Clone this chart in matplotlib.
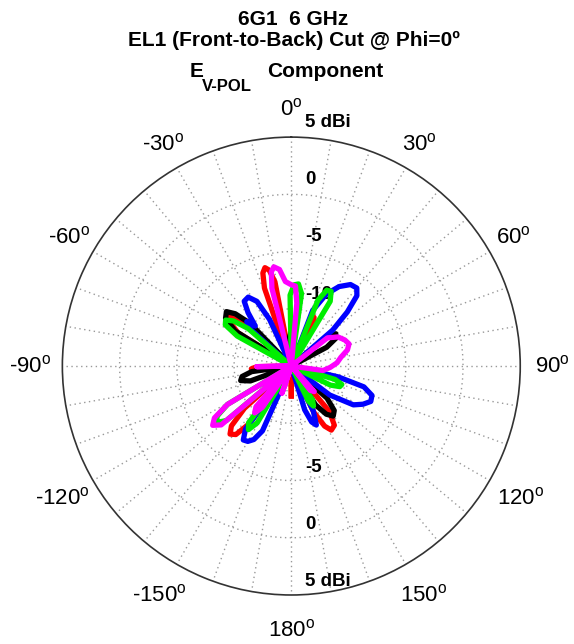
import numpy as np
import matplotlib
matplotlib.use("agg")
import matplotlib.pyplot as plt

plt.rcParams['font.family'] = ['Liberation Sans', 'DejaVu Sans']
plt.rcParams['mathtext.fontset'] = 'custom'
plt.rcParams['mathtext.rm'] = 'Liberation Sans'
plt.rcParams['mathtext.it'] = 'Liberation Sans:italic'
plt.rcParams['mathtext.bf'] = 'Liberation Sans:bold'

# angle in degrees (0 = up, clockwise), gain in dBi
black_ang = [-180, -156, -153, -150, -147, -144,
             -114, -110, -106, -102, -98, -94,
             -62, -58, -54, -50, -47, -44, -41,
             -8, -4, 0, 4, 8,
             47, 50, 54, 58, 62, 65,
             128, 132, 136, 140, 144, 148, 151, 180]
black_db = [-15, -15, -12.3, -11.5, -12.3, -15,
            -15, -11.2, -10.4, -10.6, -11.5, -15,
            -15, -9.2, -7.9, -7.6, -8.3, -9.8, -15,
            -15, -12.5, -12.0, -12.5, -15,
            -15, -11.2, -10.2, -10.4, -11.5, -15,
            -15, -10.8, -9.6, -9.3, -9.8, -11.0, -15, -15]

red_ang = [-180, -176, -147, -144, -141, -138, -135, -132, -129,
           -100, -97, -94, -91, -88,
           -61, -58, -54, -51, -48, -45,
           -21, -19, -17, -15, -13, -11, -9,
           19, 22, 25, 28, 31,
           136, 140, 144, 148, 151, 154, 157, 176, 180]
red_db = [-12.4, -15, -15, -8.8, -7.3, -7.0, -7.6, -9.5, -15,
          -15, -12.0, -11.5, -12.0, -15,
          -15, -9.5, -8.2, -8.0, -8.8, -15,
          -15, -7.8, -6.5, -6.1, -6.4, -7.5, -15,
          -15, -11.0, -10.3, -10.8, -15,
          -15, -9.8, -8.6, -8.4, -9.0, -10.5, -15, -15, -12.4]

blue_ang = [-180, -159, -156, -153, -150, -147, -144, -141,
            -52, -48, -45, -42, -39, -36, -32, -28, -25, -22,
            17, 21, 26, 31, 36, 40, 43, 46, 49, 52,
            99, 103, 106, 110, 114, 118, 122, 127, 132,
            151, 154, 157, 160, 163, 166, 180]
blue_db = [-15, -15, -8.8, -7.8, -7.4, -7.3, -8.2, -15,
           -15, -10.0, -9.5, -10.3, -9.0, -8.0, -7.9, -8.6, -10.5, -15,
           -15, -9.8, -8.0, -6.9, -6.2, -6.1, -6.6, -8.2, -10.2, -15,
           -15, -10.8, -8.4, -7.5, -7.4, -7.9, -8.6, -10.8, -15,
           -15, -10.6, -9.4, -9.8, -11.0, -15, -15]

green_ang = [-180, -151, -149, -146, -143, -140,
             -133, -130, -127, -124, -121, -118,
             -64, -61, -58, -55, -52, -49, -46,
             -4, -1, 2, 5, 8, 11,
             19, 22, 25, 28, 31, 34,
             104, 107, 110, 113, 116, 119,
             145, 148, 151, 154, 157, 180]
green_db = [-15, -15, -9.2, -8.3, -8.8, -15,
            -15, -7.6, -6.8, -7.2, -8.5, -15,
            -15, -9.6, -8.2, -8.0, -8.6, -10.0, -15,
            -15, -8.8, -7.9, -7.8, -8.6, -15,
            -15, -8.8, -7.7, -7.6, -8.4, -15,
            -15, -11.0, -10.3, -10.4, -11.2, -15,
            -15, -11.5, -11.0, -11.6, -15, -15]

magenta_ang = [-180, -165, -161, -157,
               -147, -145, -142, -139, -137,
               -133, -130, -127, -124, -121, -118,
               -96, -91, -86,
               -16, -14, -12, -10, -7, -4, 0, 3, 5, 7,
               47, 52, 58, 64, 69, 74, 80, 86, 92, 98, 106,
               134, 138, 142, 146, 180]
magenta_db = [-15, -15, -12.5, -15,
              -15, -10.6, -9.8, -10.3, -15,
              -15, -7.0, -6.4, -6.9, -8.5, -15,
              -15, -12.0, -15,
              -15, -8.0, -6.6, -6.2, -6.5, -7.6, -7.9, -8.0, -9.5, -15,
              -15, -11.0, -10.2, -9.8, -9.6, -9.9, -10.6, -11.0, -11.6, -12.2, -15,
              -15, -12.0, -12.3, -15, -15]

traces = [(red_ang, red_db, 'red'), (black_ang, black_db, 'black'), (blue_ang, blue_db, 'blue'),
          (green_ang, green_db, '#00ee00'), (magenta_ang, magenta_db, 'magenta')]

ring_vals = [-10, -5, 0, 5]
ring_text = ['-10', '-5', '0', '5 dBi']
angle_vals = [0, 30, 60, 90, 120, 150, 180, -150, -120, -90, -60, -30]

fig = plt.figure(figsize=(5.74, 6.44), dpi=100)
ax = fig.add_axes([0.1085, 0.0761, 0.798, 0.711], projection='polar')
ax.set_theta_zero_location('N')
ax.set_theta_direction(-1)
ax.set_ylim(-15, 5)
ax.set_yticks([-10, -5, 0])
ax.set_xticks(np.deg2rad(np.arange(0, 360, 10)))
ax.set_xticklabels([])
ax.set_yticklabels([])
ax.grid(True, color='#999999', linestyle=(0, (1, 2.5)), linewidth=1.0)
ax.spines['polar'].set_color('#333333')
ax.spines['polar'].set_linewidth(1.2)

for ang, db, col in traces:
    ax.plot(np.deg2rad(ang), db, color=col, lw=3.8, solid_joinstyle='round', zorder=3)

# radial labels, top and bottom
for v, t in zip(ring_vals, ring_text):
    ax.annotate(t, xy=(0, v), xytext=(10, 10.5), textcoords='offset points',
                ha='left', va='center', fontsize=13.5, fontweight='bold', zorder=2,
                annotation_clip=False)
    if v > -10:
        ax.annotate(t, xy=(np.pi, v), xytext=(10, 9.5), textcoords='offset points',
                    ha='left', va='center', fontsize=13.5, fontweight='bold', zorder=2,
                    annotation_clip=False)

for a in angle_vals:
    rr = 7.4 if abs(a) <= 60 else 8.1
    if abs(a) == 90:
        rr = 7.8
    ax.text(np.deg2rad(a), rr, '%d$^{\\mathrm{o}}$' % a, ha='center', va='center',
            fontsize=16, clip_on=False)

fig.text(0.510, 0.969, '6G1  6 GHz', ha='center', va='center', fontsize=15, fontweight='bold')
fig.text(0.512, 0.937, 'EL1 (Front-to-Back) Cut @ Phi=0º', ha='center', va='center',
         fontsize=15, fontweight='bold')
fig.text(0.354, 0.889, 'E', ha='right', va='center', fontsize=15, fontweight='bold')
fig.text(0.352, 0.865, 'V-POL', ha='left', va='center', fontsize=12, fontweight='bold')
fig.text(0.465, 0.889, 'Component', ha='left', va='center', fontsize=15, fontweight='bold')

fig.savefig('out.png', dpi=100)
